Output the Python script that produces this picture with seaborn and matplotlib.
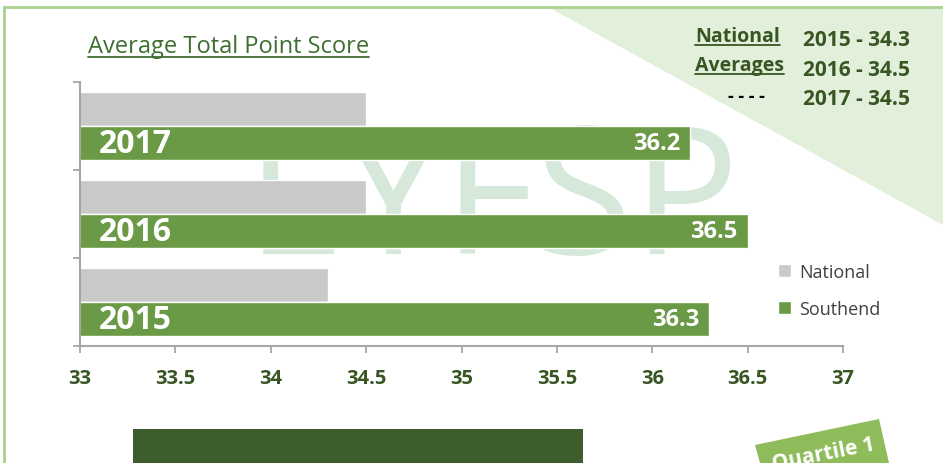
import matplotlib
matplotlib.use("Agg")
import matplotlib.pyplot as plt
from matplotlib.patches import Polygon, Rectangle
from matplotlib.lines import Line2D
import seaborn as sns
import pandas as pd

# data
years = ['2017', '2016', '2015']
national = [34.5, 34.5, 34.3]
southend = [36.2, 36.5, 36.3]
series = ['National', 'Southend']
x_ticks = [33, 33.5, 34, 34.5, 35, 35.5, 36, 36.5, 37]
x_labels = ['33', '33.5', '34', '34.5', '35', '35.5', '36', '36.5', '37']
avg_lines = ['2015 - 34.3', '2016 - 34.5', '2017 - 34.5']

df = pd.DataFrame({
    'year': years * 2,
    'series': ['National'] * 3 + ['Southend'] * 3,
    'score': national + southend,
})

sns.set_theme(style='white')
plt.rcParams['font.family'] = ['Open Sans', 'DejaVu Sans']

W, H = 943, 464
dark = '#375623'
gray_bar = '#c9c9c9'
green_bar = '#6a9a45'
axis_gray = '#a6a6a6'


def px(x, y):
    # pixel position on slide -> figure fraction
    return x / W, 1 - y / H


fig = plt.figure(figsize=(W / 100, H / 100), dpi=100)
fig.patch.set_facecolor('white')

# light green triangle at the top right
tri = Polygon([px(550, 9), px(943, 9), px(943, 226)], closed=True,
              transform=fig.transFigure, facecolor='#e2efda', edgecolor='none', zorder=-3)
fig.add_artist(tri)
# slide frame lines
fig.add_artist(Line2D([4 / W, 4 / W], [0, 1 - 8 / H], transform=fig.transFigure,
                      color='#a9d08e', lw=2, zorder=-2))
fig.add_artist(Line2D([4 / W, 1], [1 - 8 / H, 1 - 8 / H], transform=fig.transFigure,
                      color='#a9d08e', lw=2, zorder=-2))

# watermark
fig.text(*px(493, 208), 'EYFSP', ha='center', va='center', fontsize=128,
         color='#d5e8d9', zorder=-1)

ax = fig.add_axes([80 / W, 1 - 347 / H, 763 / W, 264 / H])
ax.patch.set_alpha(0)

sns.barplot(data=df, y='year', x='score', hue='series', order=years,
            hue_order=series, palette=[gray_bar, green_bar], orient='h',
            width=0.773, saturation=1, ax=ax)

ax.set_xlim(33, 37)
ax.set_ylim(2.5, -0.5)
ax.set_yticks([-0.5, 0.5, 1.5, 2.5])
ax.set_yticklabels([])
ax.set_xticks(x_ticks)
ax.set_xticklabels(x_labels, fontsize=14.5, fontweight='bold', color=dark)
ax.set_xlabel('')
ax.set_ylabel('')
ax.tick_params(axis='both', direction='out', length=5, width=1.3, color=axis_gray,
               bottom=True, left=True)
ax.tick_params(axis='x', pad=11)
sns.despine(ax=ax, top=True, right=True)
for s in ['left', 'bottom']:
    ax.spines[s].set_color(axis_gray)
    ax.spines[s].set_linewidth(1.5)

# labels on the Southend bars
off = 0.773 / 4
for i, (yr, v) in enumerate(zip(years, southend)):
    ax.text(33.1, i + off, yr, ha='left', va='center', color='white',
            fontsize=23, fontweight='bold')
    ax.text(v - 0.055, i + off, f'{v:.1f}', ha='right', va='center', color='white',
            fontsize=17, fontweight='bold')

handles, labels = ax.get_legend_handles_labels()
ax.legend(handles, labels, loc='center left', bbox_to_anchor=(0.903, 0.21),
          frameon=False, fontsize=13, handlelength=0.7, handleheight=0.7,
          handletextpad=0.45, labelspacing=1.05, borderpad=0,
          labelcolor='#404040')

title = fig.text(*px(88, 47), 'Average Total Point Score', ha='left', va='center',
                 fontsize=17, color='#3f6e31')
nat = fig.text(*px(695, 37), 'National', ha='left', va='center', fontsize=14,
               fontweight='bold', color=dark)
avg = fig.text(*px(695, 66), 'Averages', ha='left', va='center', fontsize=14,
               fontweight='bold', color=dark)
fig.text(*px(765, 97), '- - - -', ha='right', va='center', fontsize=13,
         fontweight='bold', color='black')
for k, line in enumerate(avg_lines):
    fig.text(*px(803, 40 + 30 * k), line, ha='left', va='center', fontsize=15,
             fontweight='bold', color=dark)

# dark box at the bottom
fig.add_artist(Rectangle(px(133, 464), 450 / W, 34 / H, transform=fig.transFigure,
                         facecolor='#3d5e2c', edgecolor='none'))

# quartile ribbon
fig.add_artist(Polygon([px(755, 446), px(879, 420), px(889, 464), px(760, 464)],
                       closed=True, transform=fig.transFigure,
                       facecolor='#8fbc5a', edgecolor='none'))
fig.text(*px(823, 454), 'Quartile 1', ha='center', va='center', rotation=11,
         fontsize=15, fontweight='bold', color='white')

# underline a few texts
fig.canvas.draw()
r = fig.canvas.get_renderer()
for t, c in [(title, '#3f6e31'), (nat, dark), (avg, dark)]:
    bb = t.get_window_extent(renderer=r).transformed(fig.transFigure.inverted())
    fig.add_artist(Line2D([bb.x0, bb.x1], [bb.y0 + 0.002, bb.y0 + 0.002],
                          transform=fig.transFigure, color=c, lw=1.3))

fig.savefig('out.png', dpi=100)
